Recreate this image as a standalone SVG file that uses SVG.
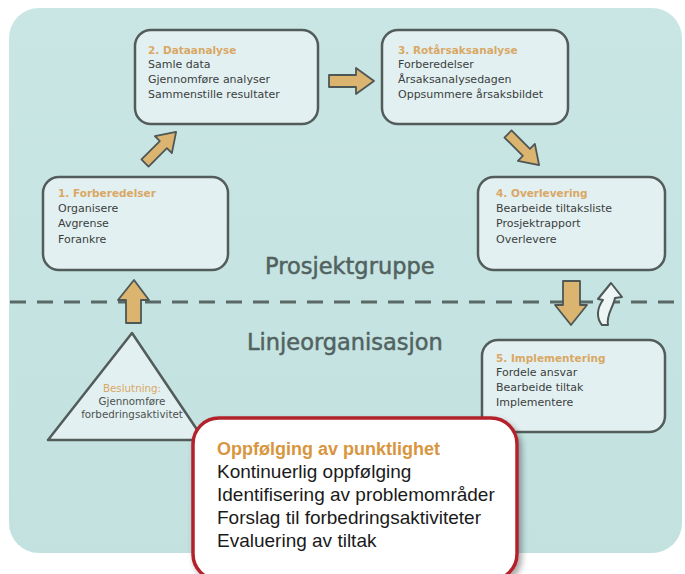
<svg xmlns="http://www.w3.org/2000/svg" width="685" height="574" viewBox="0 0 685 574">
<defs>
<style>
.box{fill:#e3f0f1;stroke:#525c5a;stroke-width:2.5}
.ttl{font-family:"DejaVu Sans",sans-serif;font-size:10.5px;fill:#d9a865;font-weight:bold}
.txt{font-family:"DejaVu Sans",sans-serif;font-size:11px;fill:#3a3f3e}
.tri{font-family:"DejaVu Sans",sans-serif;font-size:10.3px;fill:#4a5250;text-anchor:middle}
.sec{font-family:"DejaVu Sans",sans-serif;font-size:22.5px;fill:#526260;stroke:#526260;stroke-width:0.5}
.arr{fill:#dbb470;stroke:#4d5755;stroke-width:1.8;stroke-linejoin:round}
.rt{font-family:"Liberation Sans",Arial,sans-serif;font-size:19px;fill:#1a1a1a}
.rh{font-family:"Liberation Sans",Arial,sans-serif;font-size:18px;font-weight:bold;fill:#d8963f}
</style>
<linearGradient id="bg" x1="0" y1="0" x2="0" y2="1">
<stop offset="0" stop-color="#c9e6e5"/>
<stop offset="1" stop-color="#c2e1df"/>
</linearGradient>
<filter id="sh" x="-10%" y="-10%" width="125%" height="130%">
<feGaussianBlur in="SourceAlpha" stdDeviation="3"/>
<feOffset dx="3" dy="4"/>
<feComponentTransfer><feFuncA type="linear" slope="0.35"/></feComponentTransfer>
<feMerge><feMergeNode/><feMergeNode in="SourceGraphic"/></feMerge>
</filter>
</defs>
<rect width="685" height="574" fill="#ffffff"/>
<rect id="panel" x="9" y="8" width="673" height="545" rx="30" fill="url(#bg)"/>
<line x1="10" y1="302" x2="682" y2="302" stroke="#5b6966" stroke-width="3" stroke-dasharray="16 11"/>
<text class="sec" x="265" y="274">Prosjektgruppe</text>
<text class="sec" x="247" y="350">Linjeorganisasjon</text>

<g id="connectors">
<polygon class="arr" transform="translate(145,163) rotate(-45)" points="0,-5 26,-5 26,-12 44,0 26,12 26,5 0,5"/>
<polygon class="arr" points="329,75 356,75 356,68 374,81 356,94 356,87 329,87"/>
<polygon class="arr" transform="translate(508,134) rotate(45)" points="0,-5 26,-5 26,-12 44,0 26,12 26,5 0,5"/>
<polygon class="arr" points="126,323 126,300 118,300 134,280 149,300 141,300 141,323"/>
<polygon class="arr" points="563,281 580,281 580,305 587,305 571,325 555,305 563,305"/>
<path fill="#eef5f5" stroke="#4d5755" stroke-width="2" stroke-linejoin="round" d="M 602 325 C 596 318 597 308 603 300 L 598 299 L 611 283 L 622 297 L 615 298 C 613 308 606 315 608 325 Z"/>
</g>

<g id="n2">
<rect class="box" x="135" y="30" width="183" height="94" rx="16"/>
<text class="ttl" x="148" y="54">2. Dataanalyse</text>
<text class="txt" x="148" y="68">Samle data</text>
<text class="txt" x="148" y="83">Gjennomføre analyser</text>
<text class="txt" x="148" y="98">Sammenstille resultater</text>
</g>
<g id="n3">
<rect class="box" x="382" y="30" width="186" height="94" rx="16"/>
<text class="ttl" x="398" y="54">3. Rotårsaksanalyse</text>
<text class="txt" x="398" y="68">Forberedelser</text>
<text class="txt" x="398" y="83">Årsaksanalysedagen</text>
<text class="txt" x="398" y="98">Oppsummere årsaksbildet</text>
</g>
<g id="n1">
<rect class="box" x="43" y="177" width="185" height="93" rx="16"/>
<text class="ttl" x="58" y="197">1. Forberedelser</text>
<text class="txt" x="58" y="212">Organisere</text>
<text class="txt" x="58" y="227">Avgrense</text>
<text class="txt" x="58" y="243">Forankre</text>
</g>
<g id="n4">
<rect class="box" x="478" y="177" width="187" height="93" rx="16"/>
<text class="ttl" x="496" y="197">4. Overlevering</text>
<text class="txt" x="496" y="212">Bearbeide tiltaksliste</text>
<text class="txt" x="496" y="227">Prosjektrapport</text>
<text class="txt" x="496" y="243">Overlevere</text>
</g>
<g id="n5">
<rect class="box" x="482" y="340" width="183" height="92" rx="16"/>
<text class="ttl" x="496" y="362">5. Implementering</text>
<text class="txt" x="496" y="376">Fordele ansvar</text>
<text class="txt" x="496" y="391">Bearbeide tiltak</text>
<text class="txt" x="496" y="406">Implementere</text>
</g>
<g id="beslutning">
<polygon class="box" points="132,333 204,440 48,440" stroke-linejoin="round"/>
<text class="tri" x="132" y="392" style="fill:#d9a865">Beslutning:</text>
<text class="tri" x="132" y="405">Gjennomføre</text>
<text class="tri" x="132" y="418">forbedringsaktivitet</text>
</g>
<g id="oppfolging">
<rect x="193" y="418" width="324" height="162" rx="26" fill="#ffffff" stroke="#b3222c" stroke-width="3.5" filter="url(#sh)"/>
<text class="rh" x="217" y="455">Oppfølging av punktlighet</text>
<text class="rt" x="217" y="478">Kontinuerlig oppfølging</text>
<text class="rt" x="217" y="501">Identifisering av problemområder</text>
<text class="rt" x="217" y="524">Forslag til forbedringsaktiviteter</text>
<text class="rt" x="217" y="547">Evaluering av tiltak</text>
</g>
</svg>
